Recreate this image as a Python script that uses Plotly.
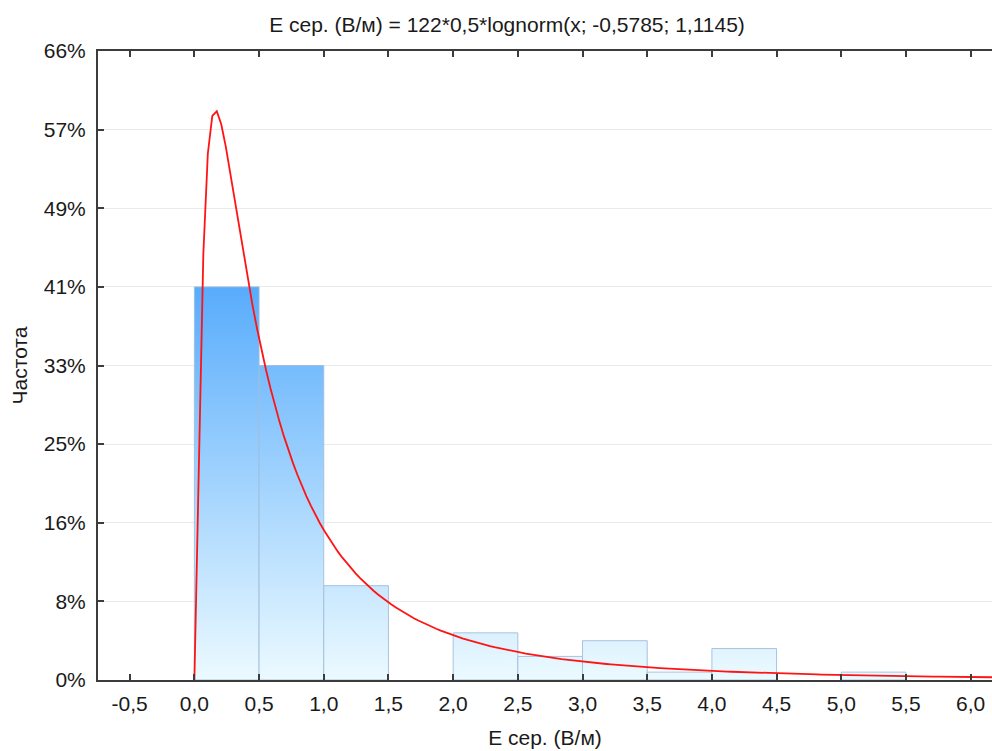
import numpy as np
import plotly.graph_objects as go

# Histogram of E сер. (В/м): bin left edges and counts per bin (N = 122)
bin_left = [0.0, 0.5, 1.0, 1.5, 2.0, 2.5, 3.0, 3.5, 4.0, 4.5, 5.0, 5.5]
counts = [50, 40, 12, 0, 6, 3, 5, 1, 4, 0, 1, 0]
bin_width = 0.5
n_obs = 122

# Fitted lognormal parameters
mu = -0.5785
sigma = 1.1145

# Axis ticks
y_tickvals = [0, 10, 20, 30, 40, 50, 60, 70, 80]
y_ticktext = ["0%", "8%", "16%", "25%", "33%", "41%", "49%", "57%", "66%"]
x_tickvals = [-0.5, 0.0, 0.5, 1.0, 1.5, 2.0, 2.5, 3.0, 3.5, 4.0, 4.5, 5.0, 5.5, 6.0]
x_ticktext = ["-0,5", "0,0", "0,5", "1,0", "1,5", "2,0", "2,5", "3,0",
              "3,5", "4,0", "4,5", "5,0", "5,5", "6,0"]

FONT = "Liberation Sans, Arial, sans-serif"
FS = 21
TEXT = "#1a1a1a"
AXIS = "#3c3c3c"

fig = go.Figure()

# Bars as filled rectangles with a vertical gradient tied to the y scale
grad = dict(
    type="vertical",
    colorscale=[[0.0, "rgb(236,250,255)"], [1.0, "rgb(88,172,252)"]],
    start=0,
    stop=max(counts),
)
for left, c in zip(bin_left, counts):
    if c <= 0:
        continue
    right = left + bin_width
    fig.add_trace(go.Scatter(
        x=[left, right, right, left, left],
        y=[0, 0, c, c, 0],
        mode="lines",
        fill="toself",
        fillgradient=grad,
        line=dict(color="rgba(160,190,220,0.9)", width=1),
        hoverinfo="skip",
        showlegend=False,
    ))

# Expected counts: N * bin width * lognormal density
xs = np.linspace(0.0, 6.3, 183)
ys = np.zeros_like(xs)
pos = xs > 0
ys[pos] = (1.0 / (xs[pos] * sigma * np.sqrt(2 * np.pi))
           * np.exp(-(np.log(xs[pos]) - mu) ** 2 / (2 * sigma ** 2)))
ys = n_obs * bin_width * ys

fig.add_trace(go.Scatter(
    x=xs, y=ys, mode="lines",
    line=dict(color="rgb(255,20,20)", width=1.8),
    showlegend=False, hoverinfo="skip",
))

fig.update_layout(
    width=992, height=751,
    margin=dict(l=98, r=0, t=51, b=71),
    paper_bgcolor="white",
    plot_bgcolor="white",
    font=dict(family=FONT, size=FS, color=TEXT),
    title=dict(
        text="E сер. (В/м) = 122*0,5*lognorm(x; -0,5785; 1,1145)",
        x=507 / 992, xref="container", xanchor="center",
        y=1 - 25 / 751, yref="container", yanchor="middle",
        font=dict(family=FONT, size=FS, color=TEXT),
    ),
    xaxis=dict(
        range=[-0.745, 6.165],
        tickvals=x_tickvals, ticktext=x_ticktext,
        ticks="inside", ticklen=6, tickwidth=1.5, tickcolor=AXIS,
        showline=True, linecolor=AXIS, linewidth=2,
        mirror="ticks",
        showgrid=False, zeroline=False,
        ticklabelstandoff=4,
        tickfont=dict(family=FONT, size=FS, color=TEXT),
        title=dict(text="E сер. (В/м)", standoff=16,
                   font=dict(family=FONT, size=FS, color=TEXT)),
    ),
    yaxis=dict(
        range=[0, 80],
        tickvals=y_tickvals, ticktext=y_ticktext,
        ticks="inside", ticklen=6, tickwidth=1.5, tickcolor=AXIS,
        showline=True, linecolor=AXIS, linewidth=2,
        showgrid=True, gridcolor="rgb(234,234,234)", gridwidth=1,
        zeroline=False,
        ticklabelstandoff=6,
        tickfont=dict(family=FONT, size=FS, color=TEXT),
        title=dict(text="Частота", standoff=10,
                   font=dict(family=FONT, size=FS, color=TEXT)),
    ),
)

fig.write_html("out.html")
